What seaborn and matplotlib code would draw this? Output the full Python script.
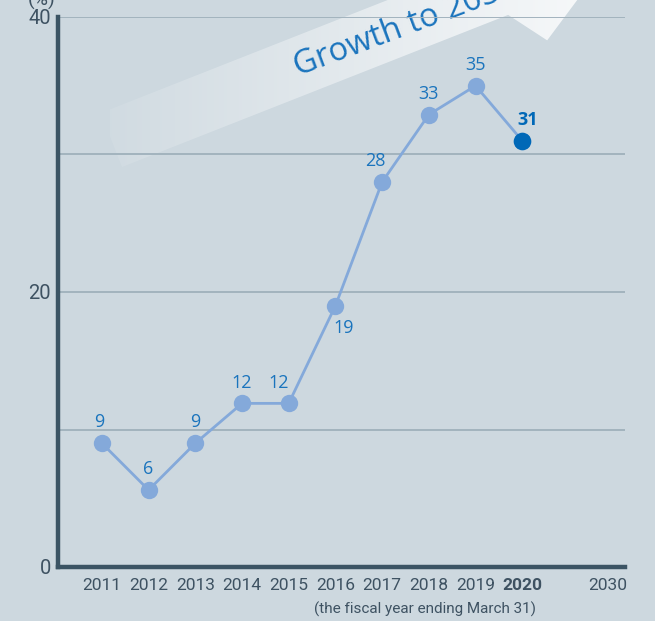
import numpy as np
import pandas as pd
import seaborn as sns
import matplotlib.pyplot as plt
from matplotlib.patches import Polygon

# ---- data ----
years = ["2011", "2012", "2013", "2014", "2015", "2016", "2017", "2018", "2019", "2020"]
values = [9.0, 5.6, 9.0, 11.9, 11.9, 19.0, 28.0, 32.9, 35.0, 31.0]
value_labels = ["9", "6", "9", "12", "12", "19", "28", "33", "35", "31"]
tick_labels = years + ["2030"]
y_ticks = [0, 20, 40]
y_grid = [10, 20, 30, 40]

# ---- style ----
BG = "#cdd8df"
SPINE = "#3b5464"
GRID = "#a2b3be"
LINE = "#84a9da"
HIGHLIGHT = "#0068b7"
LABEL = "#1a74bd"
TICK = "#3e5262"

sns.set_theme(style="white")
plt.rcParams["font.family"] = ["Roboto", "DejaVu Sans"]

W, H = 655, 621
fig = plt.figure(figsize=(W / 100, H / 100), dpi=100, facecolor=BG)

# overlay axes in pixel coordinates (behind main axes) for the arrow decoration
ov = fig.add_axes([0, 0, 1, 1], zorder=0)
ov.set_xlim(0, W)
ov.set_ylim(H, 0)
ov.axis("off")
ov.patch.set_visible(False)

ang = np.deg2rad(21.5)
d = np.array([np.cos(ang), -np.sin(ang)])
n = np.array([np.sin(ang), np.cos(ang)])
o = np.array([122.0, 167.0])
wband = 58.0
s_join, s_barb, s_tip = 415.0, 442.0, 550.0
pts = [
    o,
    o + s_join * d,
    o + s_barb * d + 38.0 * n,
    o + s_tip * d - (wband / 2) * n,
    o + s_barb * d - (wband + 38.0) * n,
    o + s_join * d - wband * n,
    o - wband * n,
]
poly = Polygon(pts, closed=True, facecolor="none", edgecolor="none")
ov.add_patch(poly)
grad = np.linspace(0.08, 0.85, 256)
rgba = np.ones((1, 256, 4))
rgba[..., 3] = grad
im = ov.imshow(rgba, extent=(110, 600, 200, -150), aspect="auto", interpolation="bilinear")
im.set_clip_path(poly)
ov.text(298, 76, "Growth to 2030", rotation=20.5, rotation_mode="anchor",
        ha="left", va="baseline", color=LABEL, fontsize=23.5,
        family=["Open Sans", "DejaVu Sans"])

# main axes
ax = fig.add_axes([58 / W, 1 - 567 / H, (625 - 58) / W, (567 - 17) / H], zorder=1)
ax.patch.set_visible(False)

df = pd.DataFrame({"x": np.arange(len(years)), "value": values})
for g in y_grid:
    ax.axhline(g, color=GRID, lw=1.4, zorder=1)

sns.lineplot(data=df, x="x", y="value", ax=ax, color=LINE, lw=2.0,
             marker="o", markersize=12.5, markeredgewidth=0, zorder=3)
sns.scatterplot(data=df.iloc[[-1]], x="x", y="value", ax=ax, color=HIGHLIGHT,
                s=160, linewidth=0, zorder=4)

offsets = [(-2, 15), (0, 15), (0, 15), (0, 15), (-7, 15), (6, -16), (-5, 15),
           (0, 15), (0, 15), (4, 15)]
for i, (lab, v) in enumerate(zip(value_labels, values)):
    bold = i == len(values) - 1
    ax.annotate(lab, (i, v), xytext=offsets[i], textcoords="offset points",
                ha="center", va="center", fontsize=13,
                color=HIGHLIGHT if bold else LABEL,
                fontweight="bold" if bold else "normal",
                family=["Open Sans", "DejaVu Sans"], zorder=5)

xpos = list(range(len(years))) + [10.83]
ax.set_xlim(-0.94, 11.2)
ax.set_ylim(0, 40)
ax.set_xticks(xpos)
ax.set_xticklabels(tick_labels, fontsize=12.5, color=TICK)
ax.get_xticklabels()[9].set_fontweight("bold")
ax.set_yticks(y_ticks)
ax.set_yticklabels([str(t) for t in y_ticks], fontsize=14.5, color=TICK)
ax.tick_params(axis="both", length=0, pad=8)
ax.tick_params(axis="y", pad=5)
ax.set_xlabel("")
ax.set_ylabel("")
for side in ["top", "right"]:
    ax.spines[side].set_visible(False)
for side in ["left", "bottom"]:
    ax.spines[side].set_color(SPINE)
    ax.spines[side].set_linewidth(3.2)

fig.text(425 / W, 1 - 609 / H, "(the fiscal year ending March 31)", ha="center",
         va="center", fontsize=11, color=TICK)
fig.text(42 / W, 1 - 0 / H, "(%)", ha="center", va="center", fontsize=14, color=TICK)

fig.savefig("out.png", dpi=100, facecolor=BG)
